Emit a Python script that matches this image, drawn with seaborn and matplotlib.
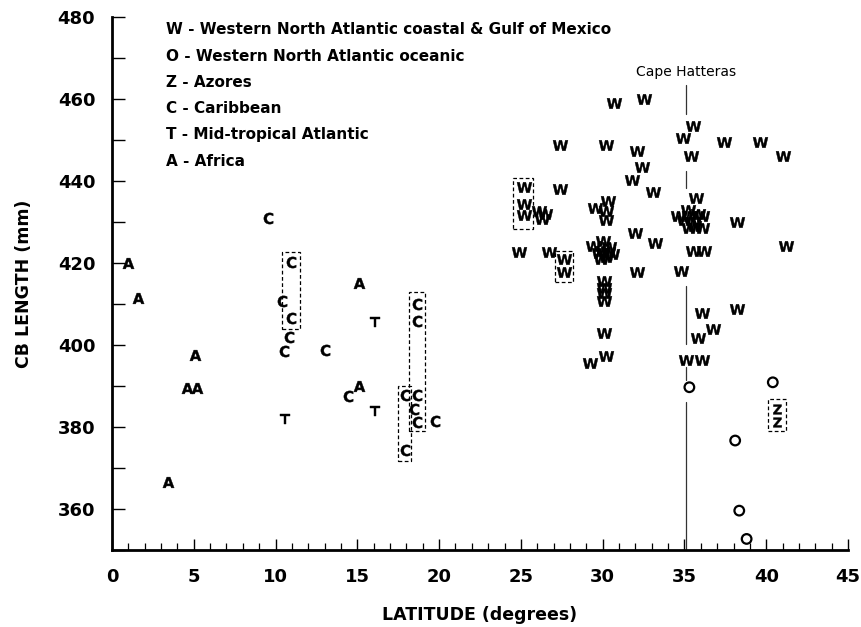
import matplotlib
matplotlib.use("Agg")
import matplotlib.pyplot as plt
import seaborn as sns
import pandas as pd
from matplotlib.patches import Rectangle
from matplotlib.ticker import MultipleLocator

sns.set_style("ticks")
plt.rcParams["font.family"] = ["DejaVu Sans"]
plt.rcParams["mathtext.fontset"] = "dejavusans"
for key in ["text.color", "axes.labelcolor", "xtick.color", "ytick.color", "axes.edgecolor"]:
    plt.rcParams[key] = "black"

# ---- data (latitude in degrees, CB length in mm) ----
w_lat = [30.7, 32.5, 27.4, 30.2, 32.1, 32.4, 31.8, 33.1, 25.2, 25.2, 25.2, 27.4,
         26.1, 26.5, 26.3, 24.9, 26.7, 27.65, 27.65, 29.5, 30.3, 30.2, 30.2,
         29.4, 29.8, 30.0, 30.0, 30.2, 30.4, 30.6, 29.9, 30.3,
         30.1, 30.1, 30.1, 30.1, 30.1, 29.2, 30.2, 32.0, 32.1, 33.2,
         35.5, 34.9, 37.4, 39.6, 41.0, 35.4, 35.7,
         34.6, 35.2, 35.0, 35.3, 35.5, 36.1, 36.1, 35.3, 35.6, 35.8,
         38.2, 35.5, 36.2, 41.2, 34.8, 36.1, 38.2, 36.75, 35.8, 35.1, 36.1]
w_mm = [459.0, 460.0, 448.7, 448.7, 447.4, 443.4, 440.3, 437.3, 438.6, 434.4, 431.6, 438.1,
        432.8, 432.0, 430.8, 422.7, 422.7, 420.9, 417.8, 433.5, 435.0, 432.6, 430.4,
        424.1, 422.5, 425.3, 423.0, 421.5, 424.0, 422.3, 421.0, 422.8,
        415.6, 414.0, 412.7, 410.7, 403.0, 395.7, 397.4, 427.4, 417.8, 424.9,
        453.3, 450.5, 449.4, 449.4, 446.2, 446.2, 435.9,
        431.4, 433.0, 430.5, 431.5, 430.0, 431.4, 428.6, 428.6, 429.0, 432.0,
        430.0, 422.9, 422.9, 424.1, 418.0, 407.9, 408.9, 403.8, 401.6, 396.4, 396.4]

o_lat = [35.3, 40.4, 38.1, 38.35, 38.8]
o_mm = [389.7, 390.9, 376.7, 359.6, 352.7]

z_lat = [40.65, 40.65]
z_mm = [384.4, 381.1]

c_lat = [9.55, 10.95, 10.4, 10.95, 10.8, 10.5, 13.0, 14.45, 18.62, 18.62,
         17.9, 18.62, 18.47, 18.62, 19.74, 17.9]
c_mm = [430.9, 420.3, 410.7, 406.7, 402.0, 398.6, 398.7, 387.6, 410.1, 405.9,
        387.8, 387.7, 384.4, 381.3, 381.5, 374.4]

t_lat = [10.6, 16.1, 16.1]
t_mm = [382.0, 405.7, 384.0]

a_lat = [1.0, 1.6, 5.1, 4.6, 5.2, 3.4, 15.1, 15.1]
a_mm = [420.0, 411.5, 397.5, 389.5, 389.5, 366.5, 415.0, 390.0]

letters = ["W", "O", "Z", "C", "T", "A"]
legend_names = ["Western North Atlantic coastal & Gulf of Mexico",
                "Western North Atlantic oceanic", "Azores", "Caribbean",
                "Mid-tropical Atlantic", "Africa"]
xticks = [0, 5, 10, 15, 20, 25, 30, 35, 40, 45]
yticks = [360, 380, 400, 420, 440, 460, 480]

# dashed boxes around grouped samples: (lat0, lat1, mm0, mm1)
boxes = [(10.4, 11.5, 404.0, 422.7), (18.17, 19.14, 379.0, 413.0),
         (17.46, 18.31, 371.8, 390.0), (24.5, 25.75, 428.2, 440.8),
         (27.1, 28.2, 415.4, 422.9), (40.1, 41.2, 379.1, 386.8)]
hatteras_lat = 35.12
hatteras_segments = [(456.3, 463.5), (438.3, 442.4), (400.2, 414.4),
                     (391.4, 394.6), (350.0, 386.2)]

series = {
    "W": (w_lat, w_mm, 115),
    "O": (o_lat, o_mm, 48),
    "Z": (z_lat, z_mm, 48),
    "C": (c_lat, c_mm, 66),
    "T": (t_lat, t_mm, 60),
    "A": (a_lat, a_mm, 66),
}

fig = plt.figure(figsize=(8.62, 6.27), dpi=100)
ax = fig.add_axes([0.1299, 0.1228, 0.8539, 0.8501])

for letter in letters:
    lat, mm, s = series[letter]
    df = pd.DataFrame({"lat": lat, "mm": mm})
    if letter == "O":
        sns.scatterplot(data=df, x="lat", y="mm", ax=ax, marker="o", s=s,
                        facecolor="none", edgecolor="black", linewidth=1.6,
                        legend=False, zorder=3)
    else:
        sns.scatterplot(data=df, x="lat", y="mm", ax=ax,
                        marker=r"$\mathbf{%s}$" % letter, s=s,
                        color="black", edgecolor="black", linewidth=0.3,
                        legend=False, zorder=3)

for (x0, x1, y0, y1) in boxes:
    ax.add_patch(Rectangle((x0, y0), x1 - x0, y1 - y0, fill=False,
                           linestyle=(0, (3, 2)), linewidth=0.9,
                           edgecolor="black", zorder=2))

for (y0, y1) in hatteras_segments:
    ax.plot([hatteras_lat, hatteras_lat], [y0, y1], color="#333333",
            linewidth=0.9, zorder=1)
ax.text(hatteras_lat, 466.6, "Cape Hatteras", ha="center", va="center",
        fontsize=10)

for i, (letter, name) in enumerate(zip(letters, legend_names)):
    ax.text(0.0734, 0.9756 - i * 0.0492, f"{letter} - {name}",
            transform=ax.transAxes, ha="left", va="center", fontsize=11,
            fontweight="bold")

ax.set_xlim(0, 45)
ax.set_ylim(350, 480)
ax.set_xticks(xticks)
ax.set_yticks(yticks)
ax.set_xticklabels([str(v) for v in xticks], fontsize=13, fontweight="bold")
ax.set_yticklabels([str(v) for v in yticks], fontsize=13, fontweight="bold")
ax.xaxis.set_minor_locator(MultipleLocator(1))
ax.yaxis.set_minor_locator(MultipleLocator(10))
ax.tick_params(axis="x", which="major", direction="in", length=8, width=1.0, pad=13)
ax.tick_params(axis="x", which="minor", direction="in", length=5, width=0.9)
ax.tick_params(axis="y", which="both", direction="in", length=9, width=1.0, pad=12)
ax.set_xlabel("LATITUDE (degrees)", fontsize=12.5, fontweight="bold", labelpad=14)
ax.set_ylabel("CB LENGTH (mm)", fontsize=12.5, fontweight="bold", labelpad=18)
for side in ["top", "right"]:
    ax.spines[side].set_visible(False)
ax.spines["left"].set_linewidth(2.0)
ax.spines["bottom"].set_linewidth(2.0)

fig.savefig("out.png", dpi=100)
